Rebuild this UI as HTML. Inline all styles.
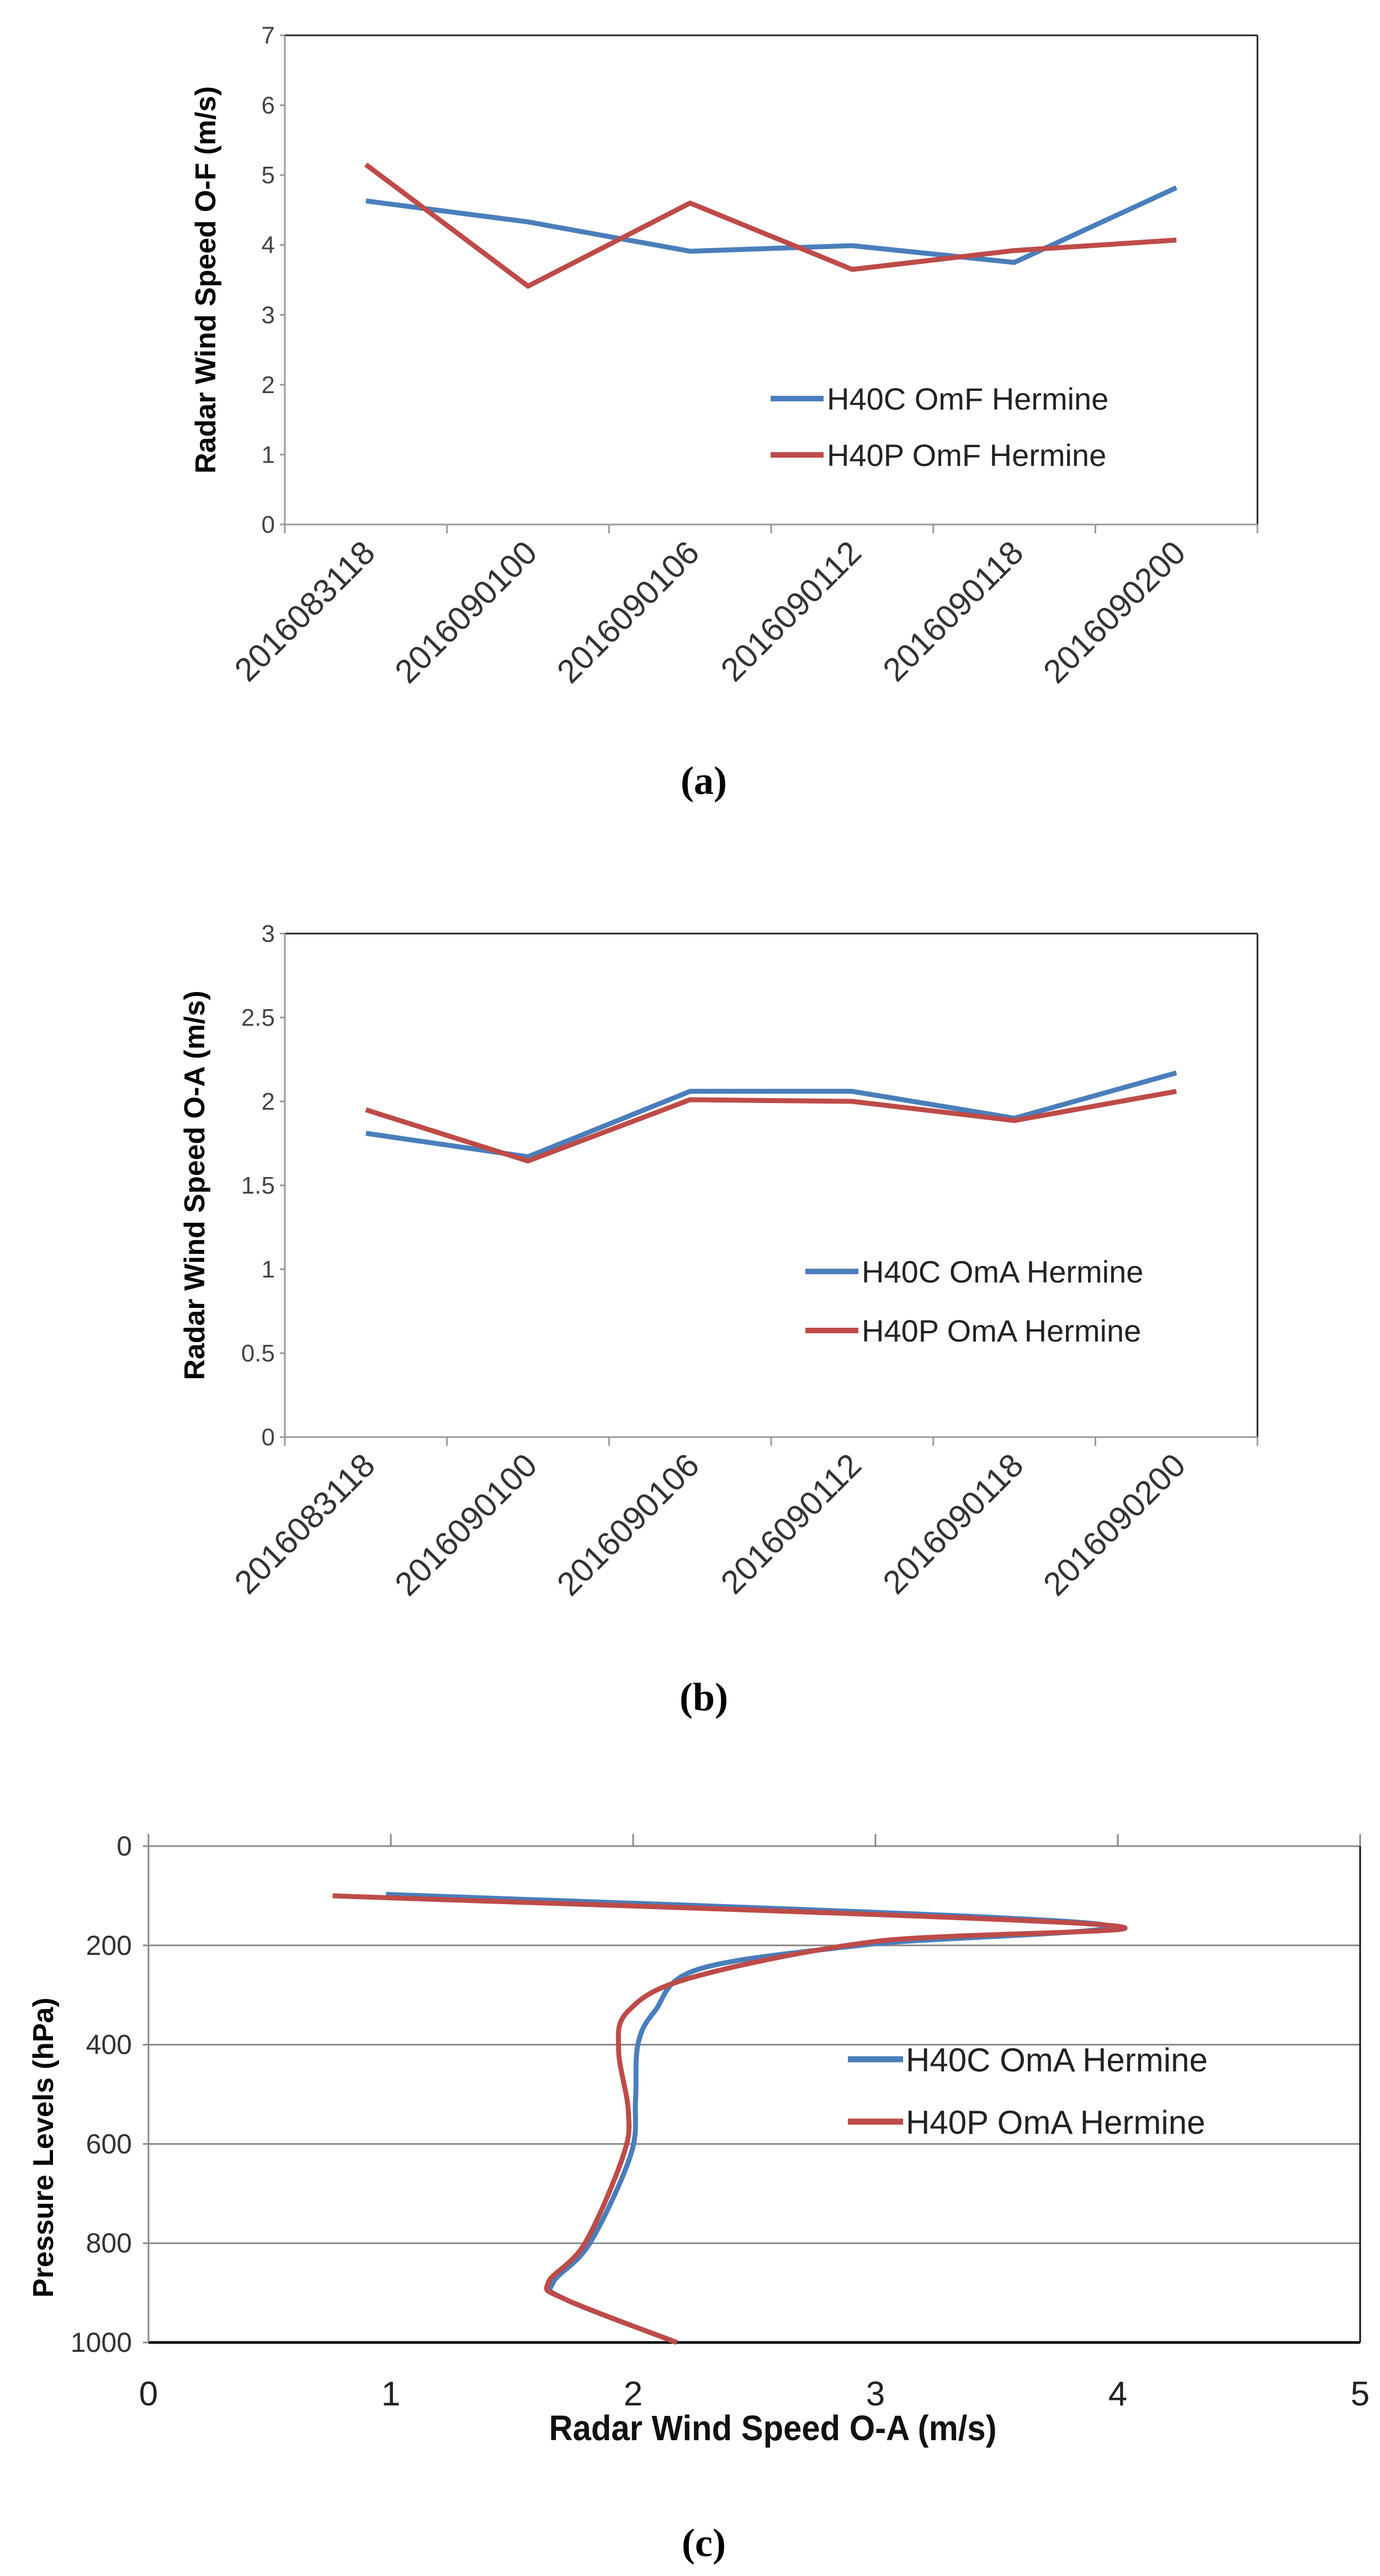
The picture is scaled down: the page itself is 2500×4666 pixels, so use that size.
<!DOCTYPE html>
<html><head><meta charset="utf-8"><style>
html,body{margin:0;padding:0;background:#fff;}
svg{display:block;font-family:"Liberation Sans",sans-serif;}
</style></head><body>
<svg id="s" width="2500" height="4666" viewBox="0 0 2500 4666" xmlns="http://www.w3.org/2000/svg"></svg>
<script>
const categories=["2016083118","2016090100","2016090106","2016090112","2016090118","2016090200"];
const omfH40C=[4.63,4.33,3.91,3.99,3.75,4.82];
const omfH40P=[5.15,3.41,4.6,3.65,3.92,4.07];
const omfTicks=[0,1,2,3,4,5,6,7];
const omaH40C=[1.81,1.67,2.06,2.06,1.90,2.17];
const omaH40P=[1.95,1.645,2.01,2.0,1.886,2.06];
const omaTicks=[0,0.5,1,1.5,2,2.5,3];
const profPressure=[0,200,400,600,800,1000];
const profXTicks=[0,1,2,3,4,5];
const profC_v=[0.98,3.90,2.97,2.27,2.09,2.02,2.01,1.99,1.82,1.67,1.72,2.18];
const profC_p=[97,156,198,248,332,399,511,622,801,879,913,1000];
const profP_v=[0.76,3.95,3.0,2.24,1.98,1.94,1.98,1.96,1.80,1.65,1.72,2.18];
const profP_p=[100,159,192,265,332,410,533,622,801,879,913,1000];

const NS="http://www.w3.org/2000/svg";
const svg=document.getElementById('s');
function mk(tag,attrs,parent,name){const e=document.createElementNS(NS,tag);for(const k in attrs)e.setAttribute(k,attrs[k]);(parent||svg).appendChild(e);


return e;}
const BLUE="#4a7ebb",RED="#be4b48";

function lineChart(cfg){
  const g=mk('g',{},svg,cfg.name);
  const L=516,R=2278,T=cfg.top,B=cfg.bottom,n=categories.length,band=(R-L)/n;
  const ymax=cfg.ticks[cfg.ticks.length-1];
  const y=v=>B-(v/ymax)*(B-T);
  const x=i=>L+band*(i+0.5);
  mk('line',{x1:L,y1:T,x2:R,y2:T,stroke:"#222","stroke-width":3},g,'plot-top-border');
  mk('line',{x1:R,y1:T,x2:R,y2:B,stroke:"#222","stroke-width":3},g,'plot-right-border');
  mk('line',{x1:L,y1:T,x2:L,y2:B+16,stroke:"#999","stroke-width":3},g,'y-axis-line');
  mk('line',{x1:L,y1:B,x2:R,y2:B,stroke:"#999","stroke-width":3},g,'x-axis-line');
  for(let i=1;i<=n;i++)mk('line',{x1:L+band*i,y1:B,x2:L+band*i,y2:B+16,stroke:"#999","stroke-width":3},g,'x-tick');
  cfg.ticks.forEach(t=>{
    mk('line',{x1:L-9,y1:y(t),x2:L,y2:y(t),stroke:"#999","stroke-width":3},g,'y-tick');
    const tx=mk('text',{x:L-18,y:y(t)+15,"text-anchor":"end","font-size":44,fill:"#444"},g,'y-tick-label');tx.textContent=t;
  });
  categories.forEach((c,i)=>{
    const tx=mk('text',{x:0,y:0,"text-anchor":"end","font-size":60,fill:"#333",transform:`translate(${x(i)+20},${B+55}) rotate(-45)`},g,'x-tick-label');tx.textContent=c;
  });
  const yt=mk('text',{x:0,y:0,"text-anchor":"middle","font-size":52,"font-weight":"bold",fill:"#000",transform:`translate(${cfg.titleX},${(T+B)/2}) rotate(-90)`},g,'y-axis-title');yt.textContent=cfg.ytitle;
  [[cfg.s1,BLUE,'series-h40c'],[cfg.s2,RED,'series-h40p']].forEach(([d,col,nm])=>{
    mk('polyline',{points:d.map((v,i)=>x(i)+','+y(v)).join(' '),fill:"none",stroke:col,"stroke-width":9,"stroke-linejoin":"round"},g,nm);
  });
  cfg.legend.forEach((lab,i)=>{
    const ly=cfg.legY[i];
    mk('line',{x1:cfg.legX,y1:ly,x2:cfg.legX+96,y2:ly,stroke:i?RED:BLUE,"stroke-width":10},g,'legend-swatch');
    const t=mk('text',{x:cfg.legX+102,y:ly+20,"font-size":56,fill:"#222"},g,'legend-label');t.textContent=lab;
  });
  const cap=mk('text',{x:1275,y:cfg.capY,"text-anchor":"middle","font-size":72,"font-weight":"bold","font-family":"Liberation Serif, serif"},g,'caption');cap.textContent=cfg.cap;
}
lineChart({name:'chart-a-omf',top:64,bottom:950,ticks:omfTicks,s1:omfH40C,s2:omfH40P,ytitle:"Radar Wind Speed O-F (m/s)",titleX:390,legend:["H40C OmF Hermine","H40P OmF Hermine"],legX:1396,legY:[722,824],cap:"(a)",capY:1438});
lineChart({name:'chart-b-oma',top:1691,bottom:2603,ticks:omaTicks,s1:omaH40C,s2:omaH40P,ytitle:"Radar Wind Speed O-A (m/s)",titleX:370,legend:["H40C OmA Hermine","H40P OmA Hermine"],legX:1459,legY:[2303,2410],cap:"(b)",capY:3098});

// chart c
(function(){
  const g=mk('g',{},svg,'chart-c-profile');
  const L=269,R=2464,T=3344,B=4243;
  const x=v=>L+v*(R-L)/5, y=p=>T+p*(B-T)/1000;
  profPressure.forEach(p=>{
    if(p>0&&p<1000)mk('line',{x1:L,y1:y(p),x2:R,y2:y(p),stroke:"#888","stroke-width":3},g,'gridline');
    mk('line',{x1:L-10,y1:y(p),x2:L,y2:y(p),stroke:"#888","stroke-width":3},g,'y-tick');
    const t=mk('text',{x:L-30,y:y(p)+17,"text-anchor":"end","font-size":50,fill:"#333"},g,'y-tick-label');t.textContent=p;
  });
  mk('line',{x1:L,y1:T,x2:R,y2:T,stroke:"#888","stroke-width":3},g,'top-axis-line');
  mk('line',{x1:L,y1:B,x2:R,y2:B,stroke:"#111","stroke-width":5},g,'bottom-border');
  mk('line',{x1:R,y1:T,x2:R,y2:B,stroke:"#111","stroke-width":3},g,'right-border');
  mk('line',{x1:L,y1:T-22,x2:L,y2:B,stroke:"#888","stroke-width":3},g,'y-axis-line');
  profXTicks.forEach(v=>{
    mk('line',{x1:x(v),y1:T-22,x2:x(v),y2:T,stroke:"#888","stroke-width":3},g,'x-tick');
    const t=mk('text',{x:x(v),y:4357,"text-anchor":"middle","font-size":62,fill:"#222"},g,'x-tick-label');t.textContent=v;
  });
  const xt=mk('text',{x:1400,y:4420,"text-anchor":"middle","font-size":64,"font-weight":"bold",fill:"#111",textLength:811,lengthAdjust:"spacingAndGlyphs"},g,'x-axis-title');xt.textContent="Radar Wind Speed O-A (m/s)";
  const yt=mk('text',{x:0,y:0,"text-anchor":"middle","font-size":52,"font-weight":"bold",fill:"#000",transform:`translate(96,${3890}) rotate(-90)`},g,'y-axis-title');yt.textContent="Pressure Levels (hPa)";
  function smooth(vs,ps){
    const P=vs.map((v,i)=>[x(v),y(ps[i])]);let d=`M${P[0][0]},${P[0][1]}`;
    for(let i=0;i<P.length-1;i++){const p0=P[i-1]||P[i],p1=P[i],p2=P[i+1],p3=P[i+2]||p2;
      const c1=[p1[0]+(p2[0]-p0[0])/6,p1[1]+(p2[1]-p0[1])/6],c2=[p2[0]-(p3[0]-p1[0])/6,p2[1]-(p3[1]-p1[1])/6];
      d+=` C${c1[0]},${c1[1]} ${c2[0]},${c2[1]} ${p2[0]},${p2[1]}`;}
    return d;}
  mk('path',{d:smooth(profC_v,profC_p),fill:"none",stroke:BLUE,"stroke-width":9},g,'series-h40c');
  mk('path',{d:smooth(profP_v,profP_p),fill:"none",stroke:RED,"stroke-width":9},g,'series-h40p');
  [["H40C OmA Hermine",BLUE,3730],["H40P OmA Hermine",RED,3843]].forEach(([lab,col,ly])=>{
    mk('line',{x1:1536,y1:ly,x2:1636,y2:ly,stroke:col,"stroke-width":11},g,'legend-swatch');
    const t=mk('text',{x:1641,y:ly+22,"font-size":60,fill:"#222"},g,'legend-label');t.textContent=lab;
  });
  const cap=mk('text',{x:1275,y:4630,"text-anchor":"middle","font-size":72,"font-weight":"bold","font-family":"Liberation Serif, serif"},g,'caption');cap.textContent="(c)";
})();
</script>
</body></html>
